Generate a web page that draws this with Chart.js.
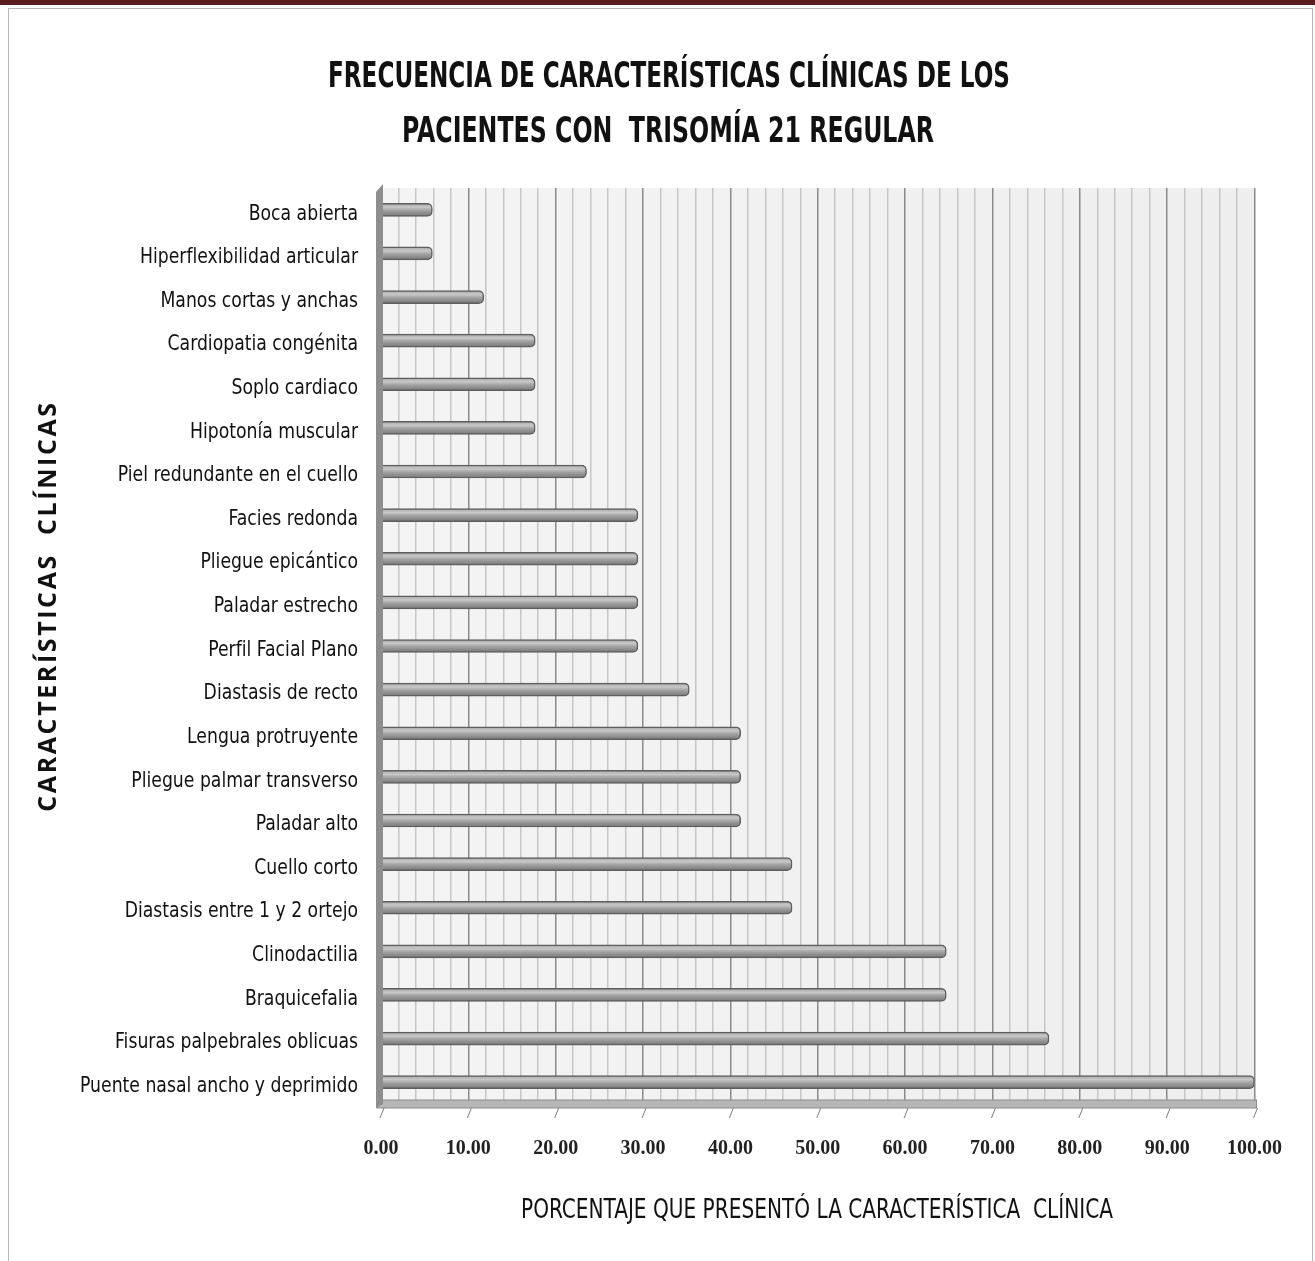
<!DOCTYPE html>
<html lang="es">
<head>
<meta charset="utf-8">
<title>Frecuencia de características clínicas</title>
<script src="https://cdn.jsdelivr.net/npm/chart.js@4.4.1/dist/chart.umd.min.js"></script>
<style>
  html, body { margin: 0; padding: 0; background: #fff; }
  #topbar { position: absolute; left: 0; top: 0; width: 1315px; height: 5px; background: #5a1c1c; }
  #frame { position: absolute; left: 8px; top: 8px; width: 1305px; height: 1260px; border: 1px solid #b8b8b8; box-sizing: border-box; }
  #chart { position: absolute; left: 0; top: 0; }
</style>
</head>
<body>
<div id="topbar"></div>
<div id="frame"></div>
<canvas id="chart" width="1315" height="1261"></canvas>
<script>
// Clinical features, listed top to bottom as they appear on the chart
const categories = [
  'Boca abierta',
  'Hiperflexibilidad articular',
  'Manos cortas y anchas',
  'Cardiopatia congénita',
  'Soplo cardiaco',
  'Hipotonía muscular',
  'Piel redundante en el cuello',
  'Facies redonda',
  'Pliegue epicántico',
  'Paladar estrecho',
  'Perfil Facial Plano',
  'Diastasis de recto',
  'Lengua protruyente',
  'Pliegue palmar transverso',
  'Paladar alto',
  'Cuello corto',
  'Diastasis entre 1 y 2 ortejo',
  'Clinodactilia',
  'Braquicefalia',
  'Fisuras palpebrales oblicuas',
  'Puente nasal ancho y deprimido'
];

// Percentage of patients presenting each feature
const percentages = [
  5.88, 5.88, 11.76, 17.65, 17.65, 17.65, 23.53,
  29.41, 29.41, 29.41, 29.41, 35.29, 41.18, 41.18,
  41.18, 47.06, 47.06, 64.71, 64.71, 76.47, 100.00
];

// Labelled ticks on the percentage axis
const tickValues = [0, 10, 20, 30, 40, 50, 60, 70, 80, 90, 100];
const tickLabels = ['0.00', '10.00', '20.00', '30.00', '40.00', '50.00',
                    '60.00', '70.00', '80.00', '90.00', '100.00'];

const titleLines = ['FRECUENCIA DE CARACTERÍSTICAS CLÍNICAS DE LOS',
                    'PACIENTES CON  TRISOMÍA 21 REGULAR'];
const xTitle = 'PORCENTAJE QUE PRESENTÓ LA CARACTERÍSTICA  CLÍNICA';
const yTitle = 'CARACTERÍSTICAS  CLÍNICAS';

const COND = '"DejaVu Sans Condensed", "DejaVu Sans", sans-serif';
const LABEL_FONT = '22px ' + COND;
const BAR_THICK = 13;

// Grey cylinder-like shading for each bar
function barFill(ctx) {
  const chart = ctx.chart;
  if (!chart.chartArea || !chart.scales.y) return '#9a9a9a';
  const yc = chart.scales.y.getPixelForValue(ctx.dataIndex);
  const g = chart.ctx.createLinearGradient(0, yc - BAR_THICK / 2, 0, yc + BAR_THICK / 2);
  g.addColorStop(0, '#a6a6a6');
  g.addColorStop(0.3, '#c8c8c8');
  g.addColorStop(0.55, '#a2a2a2');
  g.addColorStop(1, '#767676');
  return g;
}

// Narrow the category labels horizontally, anchored at their right edge
const narrowLabels = {
  id: 'narrowLabels',
  beforeDraw(chart) {
    const s = chart.scales.y;
    if (s._narrowed) return;
    const ctx = chart.ctx;
    const orig = s.drawLabels.bind(s);
    s.drawLabels = function (area) {
      ctx.save();
      ctx.font = LABEL_FONT;
      const k = 278 / ctx.measureText(categories[categories.length - 1]).width;
      const ax = chart.chartArea.left - s.options.ticks.padding;
      ctx.translate(ax, 0);
      ctx.scale(Math.min(1, k), 1);
      ctx.translate(-ax, 0);
      orig(area);
      ctx.restore();
    };
    s._narrowed = true;
  }
};

// Plot backdrop, wall, floor, chart title and axis titles
const decor = {
  id: 'decor',
  beforeDraw(chart) {
    const { ctx, chartArea: a } = chart;
    ctx.save();
    const bg = ctx.createLinearGradient(a.left, 0, a.right, 0);
    bg.addColorStop(0, '#f4f4f4');
    bg.addColorStop(1, '#eeeeee');
    ctx.fillStyle = bg;
    ctx.fillRect(a.left, a.top, a.right - a.left, a.bottom - a.top);
    ctx.restore();
  },
  afterDatasetsDraw(chart) {
    const { ctx, chartArea: a, scales } = chart;
    ctx.save();
    // floor strip
    ctx.fillStyle = '#b6b6b6';
    ctx.fillRect(a.left - 4, a.bottom - 4, a.right - a.left + 6, 8);
    ctx.strokeStyle = '#8c8c8c';
    ctx.lineWidth = 1;
    ctx.strokeRect(a.left - 4, a.bottom - 4, a.right - a.left + 6, 8);
    // slanted tick marks under the floor
    ctx.strokeStyle = '#7a7a7a';
    tickValues.forEach(v => {
      const x = scales.x.getPixelForValue(v);
      ctx.beginPath();
      ctx.moveTo(x + 3, a.bottom + 4);
      ctx.lineTo(x - 1, a.bottom + 14);
      ctx.stroke();
    });
    // left wall
    ctx.fillStyle = '#8e8e8e';
    ctx.beginPath();
    ctx.moveTo(a.left - 5, a.top + 4);
    ctx.lineTo(a.left + 2, a.top - 4);
    ctx.lineTo(a.left + 2, a.bottom);
    ctx.lineTo(a.left - 5, a.bottom + 4);
    ctx.closePath();
    ctx.fill();

    ctx.fillStyle = '#111';
    ctx.textAlign = 'center';
    ctx.textBaseline = 'middle';

    // chart title, two lines of tall condensed capitals
    ctx.font = 'bold 36px ' + COND;
    ctx.fillText(titleLines[0], 669, 78, 682);
    ctx.fillText(titleLines[1], 668, 133, 532);

    // x-axis title
    ctx.font = '27px ' + COND;
    ctx.fillText(xTitle, 817, a.bottom + 107, 592);

    // y-axis title
    ctx.translate(49, 606);
    ctx.rotate(-Math.PI / 2);
    ctx.font = 'bold 25px "Open Sans", sans-serif';
    ctx.letterSpacing = '2.6px';
    ctx.fillText(yTitle, 0, 0, 412);
    ctx.restore();
  }
};

new Chart(document.getElementById('chart'), {
  type: 'bar',
  data: {
    labels: categories,
    datasets: [{
      data: percentages,
      backgroundColor: barFill,
      borderColor: '#5e5e5e',
      borderWidth: 1.5,
      borderSkipped: 'start',
      borderRadius: { topRight: 5, bottomRight: 5 },
      barThickness: BAR_THICK
    }]
  },
  options: {
    indexAxis: 'y',
    responsive: false,
    animation: false,
    layout: { padding: { left: 0, right: 58, top: 188, bottom: 0 } },
    plugins: {
      legend: { display: false },
      tooltip: { enabled: false },
      title: { display: false }
    },
    scales: {
      x: {
        min: 0,
        max: 100,
        afterFit(scale) { scale.height = 157; },
        afterBuildTicks(scale) {
          const t = [];
          for (let v = 0; v <= 100; v += 2) t.push({ value: v });
          scale.ticks = t;
        },
        border: { display: false },
        grid: {
          drawTicks: false,
          color: c => (c.tick && c.tick.value % 10 === 0) ? '#8a8a8a' : '#c6c6c6',
          lineWidth: 1.5
        },
        ticks: {
          autoSkip: false,
          maxRotation: 0,
          padding: 33,
          color: '#222',
          font: { family: '"Liberation Serif", serif', size: 20, weight: 'bold' },
          callback(value) {
            const i = tickValues.indexOf(value);
            return i >= 0 ? tickLabels[i] : '';
          }
        }
      },
      y: {
        afterFit(scale) { scale.width = 381; },
        border: { display: false },
        grid: { display: false, drawTicks: false },
        ticks: {
          padding: 23,
          labelOffset: 4,
          color: '#111',
          font: { family: COND, size: 22 }
        }
      }
    }
  },
  plugins: [narrowLabels, decor]
});
</script>
</body>
</html>
